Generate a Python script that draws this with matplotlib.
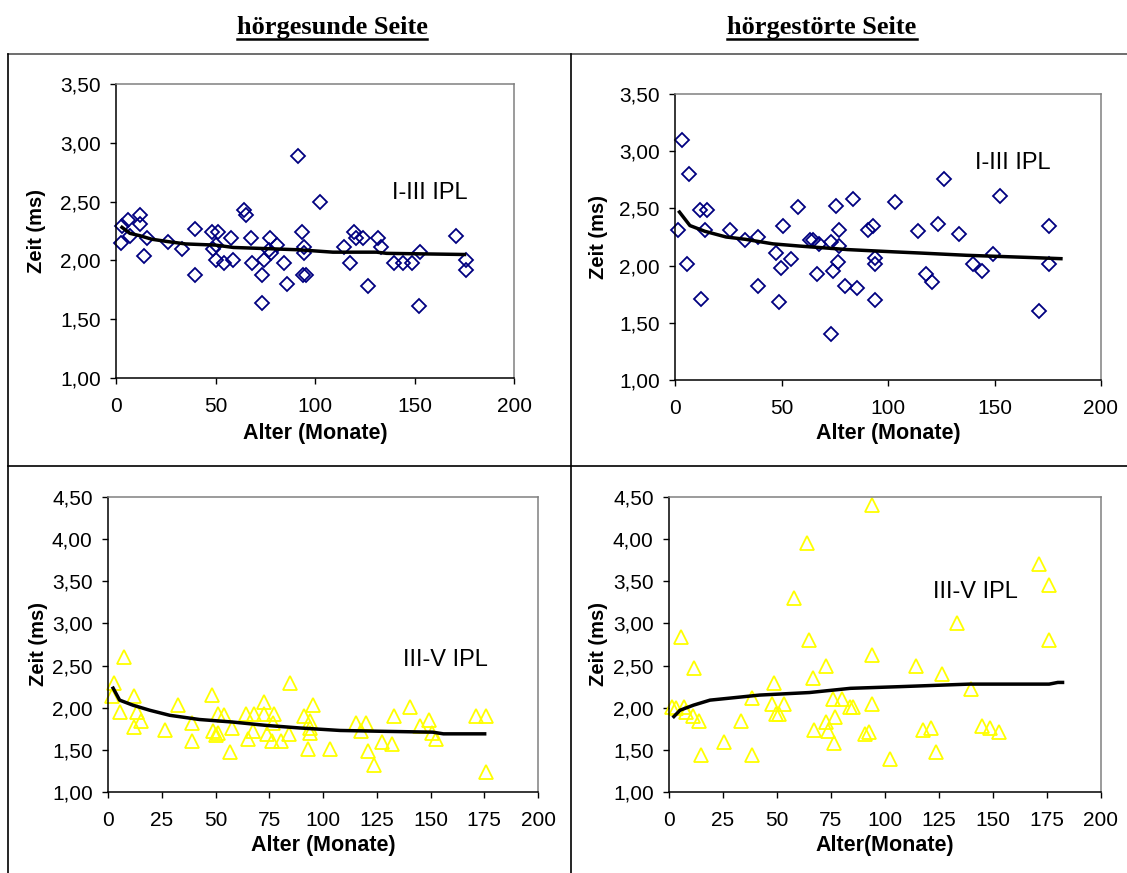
import matplotlib
matplotlib.use("Agg")
import matplotlib.pyplot as plt
from matplotlib.lines import Line2D
from matplotlib.ticker import FuncFormatter, MultipleLocator

plt.rcParams['font.family'] = ['Liberation Sans', 'DejaVu Sans']

# ---------------- data ----------------
# top-left: hörgesunde Seite, I-III IPL
p1_age = [2.3, 2.8, 6.2, 7.0, 12.0, 12.0, 15.4, 14.2, 26.3, 33.3, 39.5, 39.5, 48.4, 51.4,
          48.9, 50.5, 50.0, 54.2, 57.6, 58.6, 64.3, 65.3, 67.8, 68.5, 73.5, 73.5, 74.5,
          77.3, 77.0, 78.0, 80.7, 84.5, 85.7, 91.5, 93.6, 94.6, 94.6, 94.1, 95.7, 102.4,
          114.6, 117.8, 119.5, 120.5, 123.9, 126.7, 131.7, 133.1, 139.6, 144.3, 148.8,
          153.0, 152.1, 171.0, 176.1, 176.1]
p1_val = [2.15, 2.29, 2.34, 2.21, 2.39, 2.31, 2.19, 2.04, 2.16, 2.10, 2.27, 1.88, 2.24, 2.24,
          2.10, 2.13, 2.00, 1.98, 2.19, 2.00, 2.43, 2.39, 2.19, 1.98, 1.88, 1.64, 2.00,
          2.19, 2.09, 2.06, 2.13, 1.98, 1.80, 2.89, 2.24, 2.11, 2.06, 1.88, 1.88, 2.50,
          2.11, 1.98, 2.24, 2.19, 2.19, 1.78, 2.19, 2.11, 1.98, 1.98, 1.98,
          2.07, 1.61, 2.21, 2.00, 1.92]
p1_trend_age = [2.3, 7, 12, 18, 26, 35, 50, 59, 76, 92, 109, 131, 136, 176]
p1_trend_val = [2.29, 2.23, 2.21, 2.18, 2.16, 2.14, 2.13, 2.11, 2.10, 2.09, 2.07, 2.07, 2.06, 2.05]

# top-right: hörgestörte Seite, I-III IPL
p2_age = [1.6, 3.4, 5.5, 6.4, 11.7, 12.1, 14.9, 14.1, 25.8, 32.9, 39.2, 39.2, 47.5, 48.6,
          49.6, 50.6, 54.5, 57.9, 63.4, 64.7, 66.6, 67.8, 73.1, 73.1, 74.1, 75.6, 77.1,
          77.1, 76.7, 79.6, 83.5, 85.4, 90.8, 92.9, 93.7, 94.0, 93.7, 103.4, 114.3, 117.9,
          120.6, 123.7, 126.4, 133.4, 139.7, 144.1, 149.1, 152.7, 170.7, 175.4, 175.4]
p2_val = [2.31, 3.10, 2.01, 2.80, 2.49, 1.71, 2.49, 2.31, 2.31, 2.22, 2.25, 1.82, 2.11, 1.68,
          1.98, 2.35, 2.06, 2.51, 2.22, 2.22, 1.93, 2.19, 2.21, 1.40, 1.95, 2.52, 2.31,
          2.17, 2.03, 1.82, 2.58, 1.80, 2.31, 2.35, 2.07, 2.01, 1.70, 2.56, 2.30, 1.93,
          1.86, 2.36, 2.76, 2.28, 2.01, 1.95, 2.10, 2.61, 1.60, 2.35, 2.01]
p2_trend_age = [1.6, 7, 14, 24, 33, 46, 59, 81, 103, 115, 137, 168, 182]
p2_trend_val = [2.48, 2.35, 2.30, 2.25, 2.23, 2.19, 2.17, 2.14, 2.12, 2.11, 2.09, 2.07, 2.06]

# bottom-left: hörgesunde Seite, III-V IPL
p3_age = [1.9, 2.6, 5.7, 7.4, 12.1, 12.1, 13.6, 15.2, 26.4, 32.6, 39.1, 39.1, 48.4, 48.8,
          50.4, 51.2, 51.2, 54.0, 56.9, 57.8, 64.0, 65.1, 67.8, 67.4, 72.4, 72.6, 73.9,
          77.1, 76.7, 76.4, 80.6, 84.0, 84.8, 91.2, 93.8, 94.1, 94.1, 95.3, 93.0, 103.1,
          115.2, 117.8, 120.2, 120.9, 123.7, 127.4, 132.1, 133.0, 140.3, 145.3, 149.3,
          150.9, 152.7, 171.0, 176.0, 176.0]
p3_val = [2.14, 2.29, 1.95, 2.60, 2.14, 1.77, 1.95, 1.84, 1.73, 2.03, 1.82, 1.61, 2.15, 1.72,
          1.68, 1.92, 1.70, 1.91, 1.47, 1.76, 1.92, 1.63, 1.92, 1.72, 2.07, 1.93, 1.69,
          1.93, 1.82, 1.61, 1.61, 1.69, 2.29, 1.90, 1.84, 1.76, 1.70, 2.03, 1.51, 1.51,
          1.82, 1.72, 1.82, 1.49, 1.32, 1.59, 1.57, 1.90, 2.01, 1.78, 1.86,
          1.70, 1.63, 1.90, 1.90, 1.24]
p3_trend_age = [2.0, 5.4, 11.6, 19.4, 28.7, 42.6, 58, 73.6, 89, 108, 128, 151, 156, 176]
p3_trend_val = [2.25, 2.09, 2.03, 1.97, 1.91, 1.86, 1.83, 1.79, 1.76, 1.73, 1.72, 1.71, 1.69, 1.69]

# bottom-right: hörgestörte Seite, III-V IPL
p4_age = [1.5, 3.1, 5.4, 7.1, 7.9, 11.7, 11.3, 13.9, 14.7, 25.6, 33.2, 38.6, 38.6, 47.9,
          48.8, 49.6, 51.0, 53.4, 58.1, 63.8, 64.6, 66.6, 67.2, 72.7, 72.7, 73.8, 75.7,
          76.9, 76.4, 80.0, 83.9, 85.4, 90.8, 92.4, 94.2, 94.2, 94.2, 102.4, 114.4, 117.4,
          121.4, 123.7, 126.6, 133.3, 139.8, 144.9, 148.7, 152.9, 171.1, 175.8, 175.8]
p4_val = [2.01, 2.00, 2.84, 2.01, 1.95, 2.47, 1.90, 1.84, 1.44, 1.59, 1.84, 2.12, 1.44, 2.05,
          2.29, 1.92, 1.92, 2.05, 3.30, 3.96, 2.80, 2.35, 1.73, 2.49, 1.83, 1.72, 2.10,
          1.89, 1.58, 2.10, 2.01, 2.01, 1.69, 1.71, 4.41, 2.63, 2.04, 1.39, 2.49, 1.73,
          1.76, 1.47, 2.40, 3.01, 2.22, 1.78, 1.76, 1.71, 3.70, 3.46, 2.80]
p4_trend_age = [1.7, 5.1, 11.3, 19, 26.7, 42, 65, 84, 107, 139, 176, 180, 183]
p4_trend_val = [1.88, 1.97, 2.03, 2.09, 2.11, 2.15, 2.18, 2.23, 2.25, 2.28, 2.28, 2.30, 2.30]

col_titles = ["hörgesunde Seite", "hörgestörte Seite"]
panel_labels = ["I-III IPL", "I-III IPL", "III-V IPL", "III-V IPL"]
x_labels = ["Alter (Monate)", "Alter (Monate)", "Alter (Monate)", "Alter(Monate)"]
y_label = "Zeit (ms)"

# ---------------- figure ----------------
W, H = 1127, 873
fig = plt.figure(figsize=(W / 100, H / 100), dpi=100)
fig.patch.set_facecolor('white')


def fx(px):
    return px / W


def fy(py):
    return 1 - py / H


# frame lines (table grid)
grid_lines = [((8, 1127), (54, 54), '#555555'),
              ((8, 1127), (466, 466), 'black'),
              ((8, 8), (54, 873), 'black'),
              ((571, 571), (54, 873), 'black')]
for xs, ys, c in grid_lines:
    fig.add_artist(Line2D([fx(xs[0]), fx(xs[1])], [fy(ys[0]), fy(ys[1])],
                          transform=fig.transFigure, color=c, lw=1.2))

panels = [
    dict(rect=(116, 84, 514, 378), age=p1_age, val=p1_val, tx=p1_trend_age, ty=p1_trend_val,
         ylim=(1.0, 3.5), xstep=50, marker='D', color='#000080', ms=7.0,
         lab=(0.693, 0.63), ylab_x=37, xlab_y=434),
    dict(rect=(675, 94, 1101, 380), age=p2_age, val=p2_val, tx=p2_trend_age, ty=p2_trend_val,
         ylim=(1.0, 3.5), xstep=50, marker='D', color='#000080', ms=7.0,
         lab=(0.704, 0.76), ylab_x=598, xlab_y=434),
    dict(rect=(108, 497, 538, 792), age=p3_age, val=p3_val, tx=p3_trend_age, ty=p3_trend_val,
         ylim=(1.0, 4.5), xstep=25, marker='^', color='#FFFF00', ms=9.5,
         lab=(0.686, 0.447), ylab_x=38, xlab_y=846),
    dict(rect=(669, 497, 1101, 792), age=p4_age, val=p4_val, tx=p4_trend_age, ty=p4_trend_val,
         ylim=(1.0, 4.5), xstep=25, marker='^', color='#FFFF00', ms=9.5,
         lab=(0.611, 0.678), ylab_x=599, xlab_y=846),
]

comma_fmt = FuncFormatter(lambda v, p: f"{v:.2f}".replace('.', ','))

for i, p in enumerate(panels):
    l, t, r, b = p['rect']
    ax = fig.add_axes([fx(l), fy(b), (r - l) / W, (b - t) / H])
    ax.plot(p['age'], p['val'], linestyle='none', marker=p['marker'], ms=p['ms'],
            mfc='none', mec=p['color'], mew=1.3, zorder=2, clip_on=False)
    ax.plot(p['tx'], p['ty'], color='black', lw=2.5, linestyle='-',
            solid_capstyle='butt', solid_joinstyle='round', zorder=3)
    ax.set_xlim(0, 200)
    ax.set_ylim(*p['ylim'])
    ax.xaxis.set_major_locator(MultipleLocator(p['xstep']))
    ax.yaxis.set_major_locator(MultipleLocator(0.5))
    ax.yaxis.set_major_formatter(comma_fmt)
    ax.tick_params(axis='both', direction='out', length=4.5, width=1, color='black',
                   labelsize=15)
    ax.tick_params(axis='y', pad=6.5)
    ax.tick_params(axis='x', pad=9.5)
    for s in ['left', 'bottom']:
        ax.spines[s].set_color('black')
        ax.spines[s].set_linewidth(1.1)
    for s in ['top', 'right']:
        ax.spines[s].set_color('#808080')
        ax.spines[s].set_linewidth(1.1)
    ax.text(p['lab'][0], p['lab'][1], panel_labels[i], transform=ax.transAxes,
            fontsize=17, ha='left', va='center')
    fig.text(fx(p['ylab_x']), fy((t + b) / 2), y_label, rotation=90, ha='center',
             va='center', fontsize=14.5, fontweight='bold')
    fig.text(fx((l + r) / 2), fy(p['xlab_y']), x_labels[i], ha='center', va='center',
             fontsize=15.5, fontweight='bold')

# column titles (bold serif, underlined)
title_x = [332, 822]
titles = []
for tx_, txt in zip(title_x, col_titles):
    titles.append(fig.text(fx(tx_), fy(34), txt, ha='center', va='baseline',
                           fontsize=19, fontweight='bold', family='Liberation Serif'))
fig.canvas.draw()
rend = fig.canvas.get_renderer()
for tt in titles:
    bb = tt.get_window_extent(rend)
    fig.add_artist(Line2D([bb.x0 / W, bb.x1 / W], [fy(39), fy(39)],
                          transform=fig.transFigure, color='black', lw=1.8))

fig.savefig('out.png', dpi=100, facecolor='white')
